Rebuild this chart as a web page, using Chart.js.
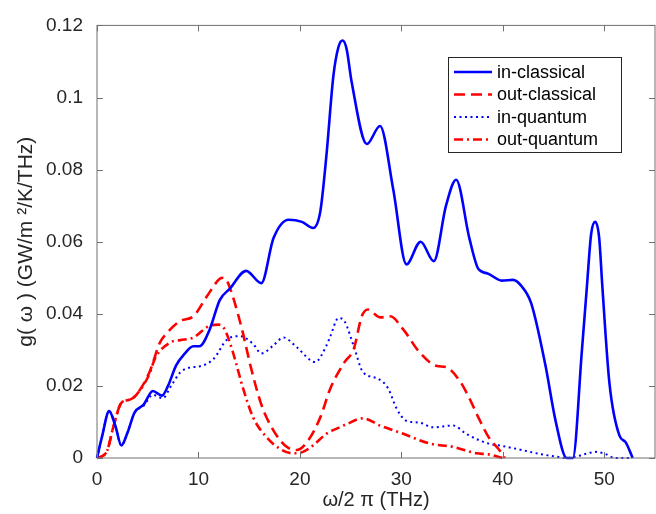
<!DOCTYPE html>
<html>
<head>
<meta charset="utf-8">
<script src="https://cdn.jsdelivr.net/npm/chart.js@4"></script>
<style>
  html, body { margin: 0; padding: 0; background: #fff; }
  #wrap { width: 656px; height: 514px; }
</style>
</head>
<body>
<div id="wrap"><canvas id="dosChart" width="656" height="514"></canvas></div>
<script>
// frequency (THz) and g(w) values
const inClassicalX = [0, 0.5, 1.2, 1.8, 2.4, 3.0, 3.7, 4.6, 5.5, 6.4, 7.0, 7.8, 8.6, 9.5, 10.1, 11.1, 12.1, 13.1, 14.7, 16.2, 17.4, 18.9, 20.2, 21.3, 22.0, 22.6, 23.3, 23.8, 24.2, 24.6, 25.1, 26.6, 27.9, 29.2, 30.5, 31.9, 33.2, 34.4, 35.4, 36.7, 37.6, 38.5, 39.9, 41.0, 41.8, 42.8, 44.2, 45.2, 46.3, 46.9, 47.8, 48.3, 48.7, 49.1, 49.5, 49.8, 50.5, 51.5, 52.1, 52.8];
const inClassicalY = [0, 0.006, 0.013, 0.009, 0.0035, 0.007, 0.0126, 0.0148, 0.0186, 0.0173, 0.020, 0.0257, 0.0288, 0.031, 0.031, 0.0356, 0.0438, 0.047, 0.0519, 0.0485, 0.061, 0.0661, 0.0655, 0.0638, 0.0682, 0.0835, 0.106, 0.114, 0.1158, 0.1135, 0.1043, 0.0871, 0.0921, 0.0745, 0.0537, 0.060, 0.0546, 0.070, 0.0772, 0.061, 0.0524, 0.0512, 0.0492, 0.0494, 0.0478, 0.0429, 0.0257, 0.0103, 0, 0, 0.030, 0.048, 0.062, 0.0655, 0.061, 0.048, 0.021, 0.0062, 0.0044, 0];

const outClassicalX = [0, 0.5, 1.0, 1.6, 2.4, 3.25, 3.9, 5.2, 6.2, 6.9, 8.2, 9.5, 10.8, 12.1, 12.5, 12.8, 13.4, 14.3, 15.2, 16.2, 17.4, 18.7, 19.7, 20.7, 22.0, 23.0, 24.4, 25.3, 26.1, 26.7, 27.9, 28.9, 30.2, 31.8, 33.5, 34.4, 35.8, 36.7, 37.6, 38.6, 39.8, 40.2];
const outClassicalY = [0, 0.0005, 0.002, 0.0085, 0.0153, 0.0162, 0.0176, 0.024, 0.032, 0.0347, 0.038, 0.0393, 0.0447, 0.0497, 0.050, 0.0492, 0.0447, 0.0356, 0.0248, 0.0148, 0.0076, 0.0031, 0.0022, 0.0044, 0.0112, 0.0193, 0.0266, 0.0302, 0.0393, 0.0412, 0.039, 0.0393, 0.0356, 0.0293, 0.0255, 0.0252, 0.0212, 0.0166, 0.0112, 0.0058, 0.0017, 0];

const inQuantumX = [0, 0.5, 1.2, 1.8, 2.4, 3.0, 3.7, 4.6, 5.5, 6.5, 7.3, 8.2, 9.0, 10.1, 11.5, 12.8, 14.1, 15.4, 16.2, 17.3, 18.4, 19.7, 21.5, 22.6, 23.0, 23.8, 24.4, 25.3, 26.2, 27.7, 28.7, 29.5, 30.5, 31.8, 33.1, 35.1, 36.4, 37.7, 38.6, 40.0, 41.9, 43.5, 45.2, 46.2, 47.0, 48.0, 49.2, 50.2, 51.0, 52.5];
const inQuantumY = [0, 0.006, 0.013, 0.009, 0.0035, 0.007, 0.0125, 0.0145, 0.0175, 0.0166, 0.020, 0.0237, 0.025, 0.0254, 0.0275, 0.0328, 0.0338, 0.0316, 0.029, 0.031, 0.0334, 0.0307, 0.0266, 0.0311, 0.0338, 0.0388, 0.0379, 0.0311, 0.0239, 0.022, 0.0193, 0.0139, 0.0103, 0.0098, 0.0085, 0.009, 0.0067, 0.0049, 0.004, 0.0033, 0.0022, 0.0012, 0.0004, 0, 0.0002, 0.0010, 0.0017, 0.001, 0, 0];

const outQuantumX = [0, 0.5, 1.0, 1.6, 2.4, 3.25, 3.9, 5.2, 5.7, 7.2, 8.2, 9.5, 11.1, 12.0, 12.6, 13.4, 14.4, 15.4, 16.7, 18.0, 19.3, 20.3, 21.3, 22.6, 23.9, 24.6, 26.2, 27.9, 30.2, 32.8, 35.1, 37.4, 38.6, 40.0];
const outQuantumY = [0, 0.0005, 0.002, 0.0085, 0.0153, 0.0162, 0.0176, 0.0235, 0.0275, 0.032, 0.0327, 0.0334, 0.0367, 0.037, 0.0356, 0.0293, 0.0193, 0.0112, 0.0058, 0.0026, 0.0013, 0.0017, 0.0035, 0.0067, 0.0085, 0.0094, 0.011, 0.009, 0.0067, 0.004, 0.0031, 0.0013, 0.001, 0];

const xTicks = [0, 10, 20, 30, 40, 50];
const yTicks = [0, 0.02, 0.04, 0.06, 0.08, 0.1, 0.12];

const toPoints = (xs, ys) => xs.map((x, i) => ({ x: x, y: ys[i] }));

Chart.defaults.font.family = '"Liberation Sans", Arial, sans-serif';
Chart.defaults.color = '#262626';

// box round the axes with inward ticks on all four sides
const matlabBox = {
    id: 'matlabBox',
    afterDatasetsDraw(chart) {
        const { ctx, chartArea: a, scales: { x, y } } = chart;
        ctx.save();
        ctx.strokeStyle = '#707070';
        ctx.lineWidth = 1;
        ctx.strokeRect(a.left, a.top, a.right - a.left, a.bottom - a.top);
        ctx.beginPath();
        xTicks.forEach(v => {
            const px = Math.round(x.getPixelForValue(v)) + 0.5;
            ctx.moveTo(px, a.bottom); ctx.lineTo(px, a.bottom - 6);
            ctx.moveTo(px, a.top); ctx.lineTo(px, a.top + 6);
        });
        yTicks.forEach(v => {
            const py = Math.round(y.getPixelForValue(v)) + 0.5;
            ctx.moveTo(a.left, py); ctx.lineTo(a.left + 6, py);
            ctx.moveTo(a.right, py); ctx.lineTo(a.right - 6, py);
        });
        ctx.stroke();
        ctx.restore();
    }
};

// legend box inside the plot, line samples use each dataset's own style
const boxLegend = {
    id: 'boxLegend',
    afterDraw(chart) {
        const ctx = chart.ctx;
        const left = 448, top = 57, w = 173, h = 95;
        ctx.save();
        ctx.fillStyle = '#fff';
        ctx.fillRect(left, top, w, h);
        ctx.strokeStyle = '#262626';
        ctx.lineWidth = 1;
        ctx.strokeRect(left + 0.5, top + 0.5, w, h);
        chart.data.datasets.forEach((ds, i) => {
            const yy = top + 15 + i * 22.5;
            ctx.strokeStyle = ds.borderColor;
            ctx.lineWidth = ds.borderWidth;
            ctx.setLineDash(ds.borderDash || []);
            ctx.beginPath();
            ctx.moveTo(left + 6, yy);
            ctx.lineTo(left + 44, yy);
            ctx.stroke();
            ctx.setLineDash([]);
            ctx.fillStyle = '#000';
            ctx.font = '18px "Liberation Sans", Arial, sans-serif';
            ctx.textBaseline = 'middle';
            ctx.fillText(ds.label, left + 49, yy + 1);
        });
        ctx.restore();
    }
};

const lineDefaults = { fill: false, pointRadius: 0, cubicInterpolationMode: 'monotone', clip: 6 };

new Chart(document.getElementById('dosChart').getContext('2d'), {
    type: 'line',
    data: {
        datasets: [
            { ...lineDefaults, label: 'in-classical', data: toPoints(inClassicalX, inClassicalY),
              borderColor: '#0000ff', borderWidth: 2.6 },
            { ...lineDefaults, label: 'out-classical', data: toPoints(outClassicalX, outClassicalY),
              borderColor: '#ff0000', borderWidth: 2.6, borderDash: [11, 6] },
            { ...lineDefaults, label: 'in-quantum', data: toPoints(inQuantumX, inQuantumY),
              borderColor: '#0000ff', borderWidth: 2, borderDash: [2, 3.5] },
            { ...lineDefaults, label: 'out-quantum', data: toPoints(outQuantumX, outQuantumY),
              borderColor: '#ff0000', borderWidth: 2.6, borderDash: [9, 4, 2, 4] }
        ]
    },
    options: {
        responsive: false,
        animation: false,
        devicePixelRatio: 1,
        layout: { padding: { top: 15, right: 1, left: 0, bottom: 0 } },
        plugins: { legend: { display: false }, tooltip: { enabled: false } },
        scales: {
            x: {
                type: 'linear',
                min: 0,
                max: 55,
                grid: { display: false, drawTicks: false },
                border: { display: false },
                afterBuildTicks: s => { s.ticks = xTicks.map(v => ({ value: v })); },
                afterFit: s => { s.height = 56; },
                ticks: { font: { size: 19 }, padding: 10, maxRotation: 0 },
                title: { display: true, text: 'ω/2 π (THz)', font: { size: 20 }, padding: { top: 0, bottom: 2 } }
            },
            y: {
                min: 0,
                max: 0.12,
                grid: { display: false, drawTicks: false },
                border: { display: false },
                afterBuildTicks: s => { s.ticks = yTicks.map(v => ({ value: v })); },
                afterFit: s => { s.width = 97; },
                ticks: { font: { size: 19 }, padding: 14, callback: v => String(+v.toFixed(2)) },
                title: { display: true, text: 'g( ω ) (GW/m ²/K/THz)', font: { size: 21 }, padding: { top: 14, bottom: 0 } }
            }
        }
    },
    plugins: [matlabBox, boxLegend]
});
</script>
</body>
</html>
